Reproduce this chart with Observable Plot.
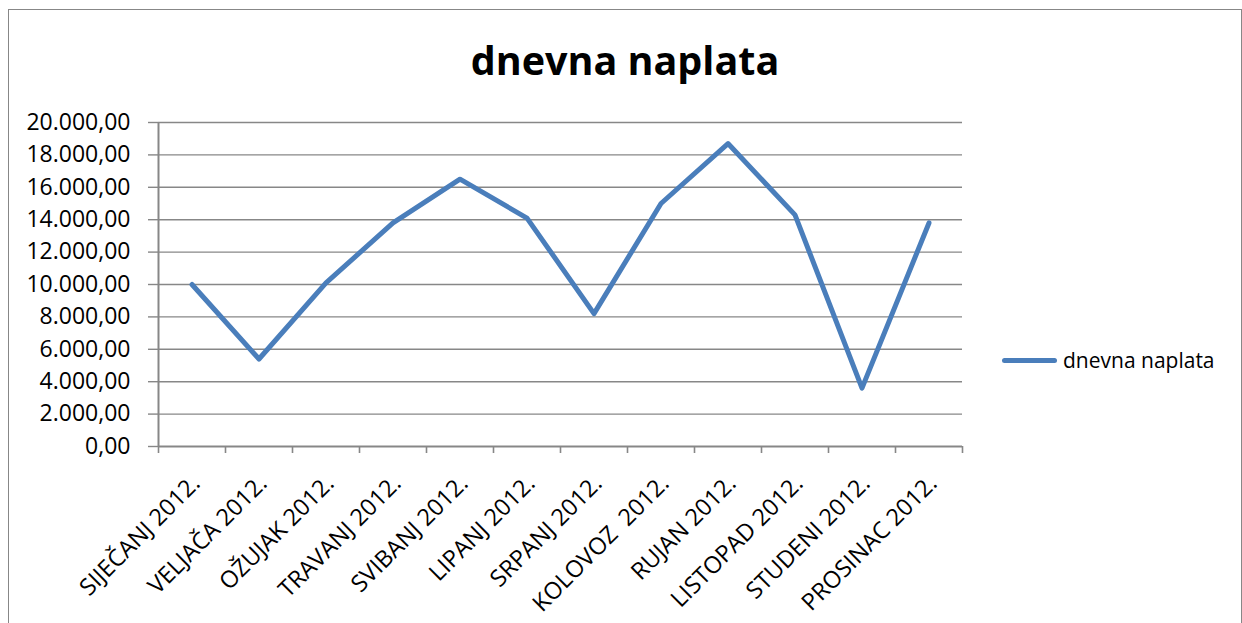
<!DOCTYPE html>
<html><head><meta charset="utf-8">
<script src="https://cdn.jsdelivr.net/npm/d3@7"></script>
<script src="https://cdn.jsdelivr.net/npm/@observablehq/plot@0.6"></script>
<style>
body{margin:0;background:#fff;font-family:"Open Sans",sans-serif;}
#wrap{position:relative;width:1242px;height:623px;overflow:hidden;background:#fff;}
#frame{position:absolute;left:8px;top:9px;width:1234px;height:700px;border:1.5px solid #878787;box-sizing:border-box;pointer-events:none;}
#title{position:relative;height:100px;box-sizing:border-box;padding-top:33px;padding-left:8px;text-align:center;font-weight:700;font-size:39.5px;line-height:normal;color:#000;white-space:nowrap;}
#chart{position:relative;}
#legend{position:absolute;left:1002px;top:345px;height:30px;display:flex;align-items:center;font-size:21px;color:#000;white-space:nowrap;}
#legend .sw{width:55px;height:5px;background:#4A7EBB;border-radius:3px;margin-right:6px;}
</style>
</head><body>
<div id="wrap">
  <div id="frame"></div>
  <div id="title">dnevna naplata</div>
  <div id="chart"></div>
  <div id="legend"><div class="sw"></div><span>dnevna naplata</span></div>
</div>
<script>
const months = ["SIJEČANJ 2012.", "VELJAČA 2012.", "OŽUJAK 2012.", "TRAVANJ 2012.", "SVIBANJ 2012.", "LIPANJ 2012.", "SRPANJ 2012.", "KOLOVOZ  2012.", "RUJAN 2012.", "LISTOPAD 2012.", "STUDENI 2012.", "PROSINAC 2012."];
const values = [10000, 5400, 10100, 13800, 16500, 14100, 8200, 15000, 18700, 14300, 3600, 13800];
const yTicks = [0, 2000, 4000, 6000, 8000, 10000, 12000, 14000, 16000, 18000, 20000];
const seriesName = "dnevna naplata";

const fmt = d3.formatLocale({decimal: ",", thousands: ".", grouping: [3], currency: ["", ""]}).format(",.2f");
const data = months.map((m, i) => ({i, m, v: values[i]}));
const idx = months.map((m, i) => i);
const bounds = months.map((m, i) => i - 0.5).concat([months.length - 0.5]);
const grey = "#878787";

const plot = Plot.plot({
  width: 1242, height: 523,
  marginTop: 22, marginBottom: 177, marginLeft: 158, marginRight: 280,
  style: {fontFamily: '"Open Sans", sans-serif', fontSize: "22px", color: "#000", background: "transparent", overflow: "visible"},
  x: {domain: [-0.5, months.length - 0.5], axis: null, label: null},
  y: {domain: [0, 20000], axis: null, label: null},
  marks: [
    Plot.ruleY(yTicks.filter(d => d > 0), {stroke: grey, strokeWidth: 1.4}),
    Plot.axisY(yTicks, {tickSize: 10, tickPadding: 18, tickFormat: fmt, stroke: grey, strokeWidth: 1.4, fontSize: 23, label: null}),
    Plot.axisX(bounds, {tickSize: 7, tickFormat: () => "", stroke: grey, strokeWidth: 1.6, label: null}),
    Plot.axisX(idx, {tickSize: 0, tickPadding: 33, tickRotate: -45, tickFormat: i => months[i], dx: 4, fontSize: 23.5, label: null}),
    Plot.ruleY([0], {stroke: grey, strokeWidth: 2}),
    Plot.ruleX([-0.5], {y1: 0, y2: 20000, stroke: grey, strokeWidth: 2}),
    Plot.line(data, {x: "i", y: "v", stroke: "#4A7EBB", strokeWidth: 5, strokeLinejoin: "round", strokeLinecap: "round"})
  ]
});
document.getElementById("chart").appendChild(plot);
document.querySelector("#legend span").textContent = seriesName;
</script>
</body></html>
